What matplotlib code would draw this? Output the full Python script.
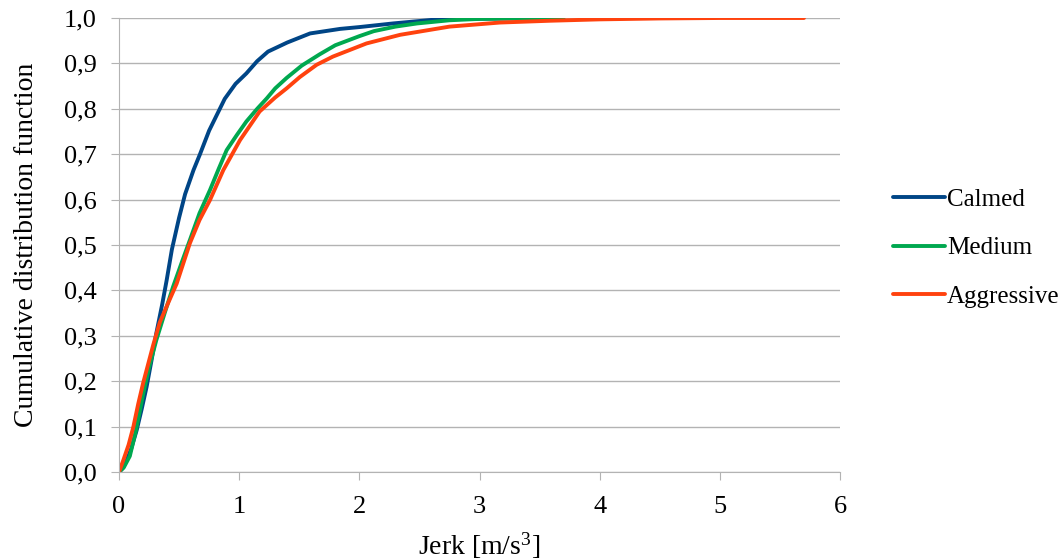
import matplotlib
matplotlib.use('Agg')
import matplotlib.pyplot as plt
from matplotlib.ticker import FuncFormatter

plt.rcParams['font.family'] = ['Liberation Serif', 'DejaVu Serif']
plt.rcParams['mathtext.fontset'] = 'custom'
plt.rcParams['mathtext.rm'] = 'Liberation Serif'
plt.rcParams['mathtext.default'] = 'regular'

# values
calmed_x = [0, 0.03, 0.064, 0.1, 0.147, 0.19, 0.23, 0.27, 0.31, 0.36, 0.397, 0.44, 0.5, 0.55,
            0.62, 0.674, 0.75, 0.88, 0.97, 1.06, 1.15, 1.24, 1.4, 1.59, 1.84, 2.0, 2.28,
            2.61, 2.83, 3.2, 3.6]
calmed_y = [0, 0.008, 0.026, 0.05, 0.092, 0.14, 0.188, 0.245, 0.305, 0.37, 0.423, 0.49, 0.56,
            0.612, 0.665, 0.70, 0.752, 0.822, 0.855, 0.878, 0.905, 0.926, 0.946, 0.966, 0.976,
            0.98, 0.988, 0.996, 0.998, 0.999, 1.0]

medium_x = [0, 0.04, 0.09, 0.14, 0.2, 0.25, 0.31, 0.38, 0.45, 0.52, 0.59, 0.67, 0.757, 0.83,
            0.896, 0.98, 1.06, 1.15, 1.23, 1.3, 1.395, 1.52, 1.67, 1.8, 2.0, 2.12, 2.3, 2.48,
            2.75, 3.0, 3.3, 3.7]
medium_y = [0, 0.01, 0.035, 0.09, 0.17, 0.23, 0.29, 0.35, 0.408, 0.46, 0.511, 0.57, 0.621,
            0.668, 0.709, 0.742, 0.772, 0.80, 0.823, 0.845, 0.868, 0.895, 0.92, 0.94, 0.96,
            0.971, 0.981, 0.988, 0.995, 0.998, 0.999, 1.0]

aggressive_x = [0, 0.036, 0.08, 0.12, 0.16, 0.2, 0.24, 0.285, 0.34, 0.397, 0.48, 0.59, 0.67,
                0.757, 0.868, 1.007, 1.17, 1.3, 1.395, 1.505, 1.645, 1.78, 2.06, 2.34, 2.75,
                3.17, 3.59, 4.0, 4.5, 5.0, 5.7]
aggressive_y = [0, 0.026, 0.06, 0.1, 0.15, 0.195, 0.235, 0.28, 0.33, 0.365, 0.415, 0.504, 0.555,
                0.599, 0.665, 0.731, 0.794, 0.825, 0.845, 0.87, 0.897, 0.915, 0.944, 0.963,
                0.981, 0.99, 0.994, 0.997, 0.999, 1.0, 1.0]

series = [
  ('Calmed', calmed_x, calmed_y, '#004586'),
  ('Medium', medium_x, medium_y, '#00a84f'),
  ('Aggressive', aggressive_x, aggressive_y, '#ff420e'),
]

fig = plt.figure(figsize=(10.64, 5.59), dpi=100)
ax = fig.add_axes([119 / 1064, 87 / 559, 721 / 1064, 454 / 559])

for name, xs, ys, col in series:
  ax.plot(xs, ys, color=col, linewidth=2.8, label=name, solid_capstyle='round')

ax.set_xlim(0, 6)
ax.set_ylim(0, 1.0)
ax.set_xticks(range(7))
ax.set_yticks([i / 10 for i in range(11)])
ax.yaxis.set_major_formatter(FuncFormatter(lambda v, p: f'{v:.1f}'.replace('.', ',')))
ax.grid(axis='y', color='#b3b3b3', linewidth=1)
ax.set_axisbelow(True)
for side in ['top', 'right']:
  ax.spines[side].set_visible(False)
for side in ['left', 'bottom']:
  ax.spines[side].set_color('#b3b3b3')
ax.tick_params(direction='out', length=6, color='#b3b3b3', labelsize=19, pad=10)
ax.tick_params(axis='x', pad=11)
ax.set_xlabel('Jerk [m/s$^3$]', fontsize=20, labelpad=9)
ax.set_ylabel('Cumulative distribution function', fontsize=20, labelpad=18)

ax.legend(loc='center left', bbox_to_anchor=(893 / 1064, 1 - 248 / 559),
          bbox_transform=fig.transFigure, frameon=False, fontsize=18,
          handlelength=2.08, handletextpad=0.08, labelspacing=1.05,
          borderpad=0, borderaxespad=0)

fig.savefig('out.png', dpi=100)
